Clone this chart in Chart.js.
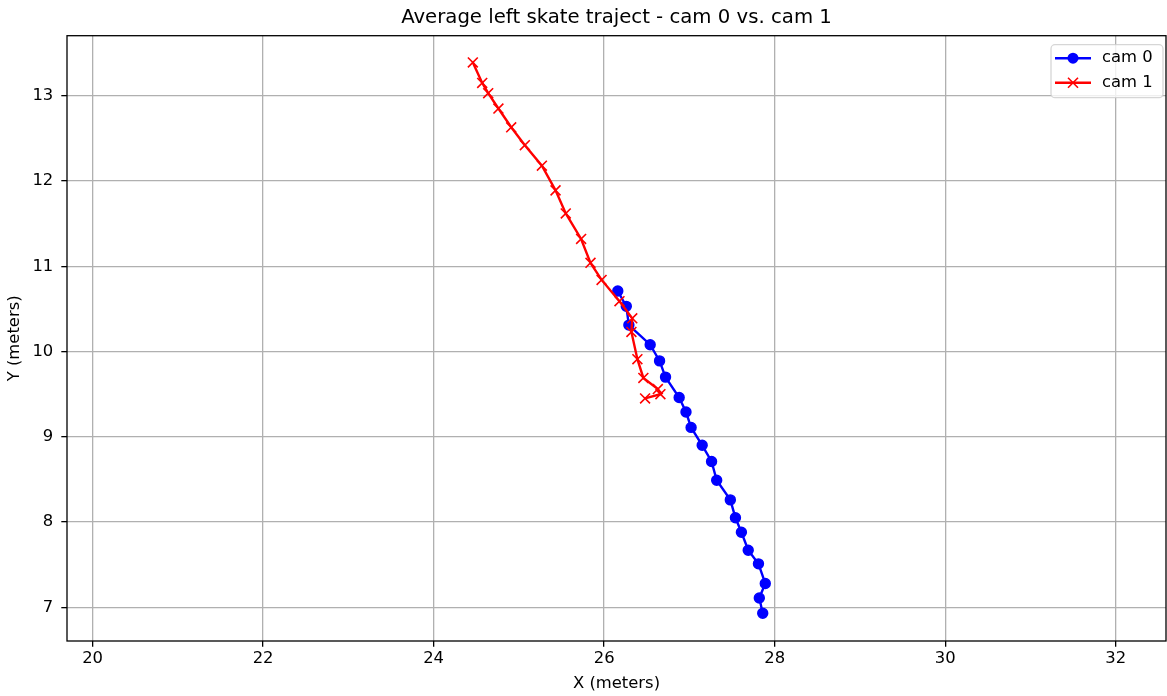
<!DOCTYPE html>
<html lang="en">
<head>
<meta charset="UTF-8">
<title>Average left skate traject - cam 0 vs. cam 1</title>
<script src="https://cdn.jsdelivr.net/npm/chart.js"></script>
<style>
  body { margin: 0; background: #fff; }
  canvas { display: block; }
</style>
</head>
<body>
<canvas id="trajChart" width="1167" height="696"></canvas>
<script>
// values
const cam0X = [26.16, 26.26, 26.29, 26.54, 26.65, 26.72, 26.88, 26.96, 27.02, 27.15,
               27.26, 27.32, 27.48, 27.54, 27.61, 27.69, 27.81, 27.89, 27.82, 27.86];
const cam0Y = [10.71, 10.53, 10.31, 10.08, 9.89, 9.70, 9.46, 9.29, 9.11, 8.90,
               8.71, 8.49, 8.26, 8.05, 7.88, 7.67, 7.51, 7.28, 7.11, 6.93];
const cam1X = [24.46, 24.57, 24.64, 24.76, 24.91, 25.07, 25.27, 25.43, 25.55, 25.73,
               25.84, 25.97, 26.18, 26.33, 26.32, 26.39, 26.46, 26.63, 26.66, 26.48];
const cam1Y = [13.39, 13.15, 13.03, 12.85, 12.63, 12.42, 12.18, 11.89, 11.62, 11.32,
               11.04, 10.84, 10.59, 10.39, 10.23, 9.91, 9.69, 9.56, 9.50, 9.45];
const seriesNames = ['cam 0', 'cam 1'];
const seriesColors = ['#0000ff', '#ff0000'];
const xTicks = [20, 22, 24, 26, 28, 30, 32];
const yTicks = [7, 8, 9, 10, 11, 12, 13];
const titleText = 'Average left skate traject - cam 0 vs. cam 1';

const FONT = '"DejaVu Sans", sans-serif';

function toPoints(xs, ys) {
  return xs.map((x, i) => ({ x: x, y: ys[i] }));
}

// matplotlib-style box round the plot, and the title centred over the axes
const framePlugin = {
  id: 'frame',
  afterDatasetsDraw(chart) {
    const a = chart.chartArea;
    const ctx = chart.ctx;
    ctx.save();
    ctx.strokeStyle = '#000';
    ctx.lineWidth = 1.3;
    ctx.strokeRect(a.left, a.top, a.right - a.left, a.bottom - a.top);
    ctx.fillStyle = '#000';
    ctx.font = '19.7px ' + FONT;
    ctx.textAlign = 'center';
    ctx.textBaseline = 'middle';
    ctx.fillText(titleText, (a.left + a.right) / 2, 18);
    ctx.restore();
  }
};

// legend with line + marker samples, upper right
const legendPlugin = {
  id: 'mplLegend',
  afterDraw(chart) {
    const ctx = chart.ctx;
    const a = chart.chartArea;
    const w = 112, h = 53;
    const bx = a.right - 3 - w, by = a.top + 9;
    ctx.save();
    ctx.beginPath();
    ctx.roundRect(bx, by, w, h, 4);
    ctx.fillStyle = 'rgba(255,255,255,0.8)';
    ctx.fill();
    ctx.strokeStyle = 'rgba(204,204,204,0.8)';
    ctx.lineWidth = 1.3;
    ctx.stroke();

    seriesNames.forEach((name, i) => {
      const cy = by + 13.5 + i * 24.5;
      const x0 = bx + 4, x1 = bx + 40, mx = (x0 + x1) / 2;
      ctx.strokeStyle = seriesColors[i];
      ctx.fillStyle = seriesColors[i];
      ctx.lineWidth = 2.4;
      ctx.beginPath();
      ctx.moveTo(x0, cy);
      ctx.lineTo(x1, cy);
      ctx.stroke();
      if (i === 0) {
        ctx.beginPath();
        ctx.arc(mx, cy, 5.5, 0, Math.PI * 2);
        ctx.fill();
      } else {
        ctx.lineWidth = 1.6;
        ctx.beginPath();
        ctx.moveTo(mx - 5, cy - 5); ctx.lineTo(mx + 5, cy + 5);
        ctx.moveTo(mx - 5, cy + 5); ctx.lineTo(mx + 5, cy - 5);
        ctx.stroke();
      }
      ctx.fillStyle = '#000';
      ctx.font = '16.4px ' + FONT;
      ctx.textBaseline = 'middle';
      ctx.textAlign = 'left';
      ctx.fillText(name, bx + 51, cy);
    });
    ctx.restore();
  }
};

const ctx = document.getElementById('trajChart').getContext('2d');
new Chart(ctx, {
  type: 'scatter',
  data: {
    datasets: [
      {
        label: seriesNames[0],
        data: toPoints(cam0X, cam0Y),
        showLine: true,
        borderColor: seriesColors[0],
        backgroundColor: seriesColors[0],
        borderWidth: 2.4,
        pointStyle: 'circle',
        pointRadius: 4.9,
        pointBorderWidth: 1.6,
        order: 1
      },
      {
        label: seriesNames[1],
        data: toPoints(cam1X, cam1Y),
        showLine: true,
        borderColor: seriesColors[1],
        backgroundColor: seriesColors[1],
        borderWidth: 2.4,
        pointStyle: 'crossRot',
        pointRadius: 7,
        pointBorderWidth: 1.6,
        order: 0
      }
    ]
  },
  options: {
    responsive: false,
    animation: false,
    events: [],
    layout: { autoPadding: false, padding: { left: 0, right: 1, top: 35.7, bottom: 0 } },
    plugins: {
      legend: { display: false },
      tooltip: { enabled: false },
      title: { display: false }
    },
    scales: {
      x: {
        type: 'linear',
        min: 19.70,
        max: 32.59,
        afterBuildTicks: (scale) => { scale.ticks = xTicks.map(v => ({ value: v })); },
        afterFit: (scale) => { scale.height = 55; scale.paddingLeft = 0; scale.paddingRight = 0; },
        ticks: {
          color: '#000',
          font: { family: FONT, size: 16.4 },
          padding: 2,
          maxRotation: 0,
          callback: (v) => String(v)
        },
        grid: { color: '#b0b0b0', lineWidth: 1.3, tickColor: '#000', tickLength: 5.7, tickWidth: 1.3 },
        border: { display: false },
        title: {
          display: true,
          text: 'X (meters)',
          color: '#000',
          font: { family: FONT, size: 16.4 },
          padding: { top: 0, bottom: 2.4 }
        }
      },
      y: {
        type: 'linear',
        min: 6.605,
        max: 13.704,
        afterBuildTicks: (scale) => { scale.ticks = yTicks.map(v => ({ value: v })); },
        afterFit: (scale) => { scale.width = 67; scale.paddingTop = 0; scale.paddingBottom = 0; },
        ticks: {
          color: '#000',
          font: { family: FONT, size: 16.4 },
          padding: 8,
          callback: (v) => String(v)
        },
        grid: { color: '#b0b0b0', lineWidth: 1.3, tickColor: '#000', tickLength: 5.7, tickWidth: 1.3 },
        border: { display: false },
        title: {
          display: true,
          text: 'Y (meters)',
          color: '#000',
          font: { family: FONT, size: 16.4 },
          padding: { top: 5.4, bottom: 0 }
        }
      }
    }
  },
  plugins: [framePlugin, legendPlugin]
});
</script>
</body>
</html>
